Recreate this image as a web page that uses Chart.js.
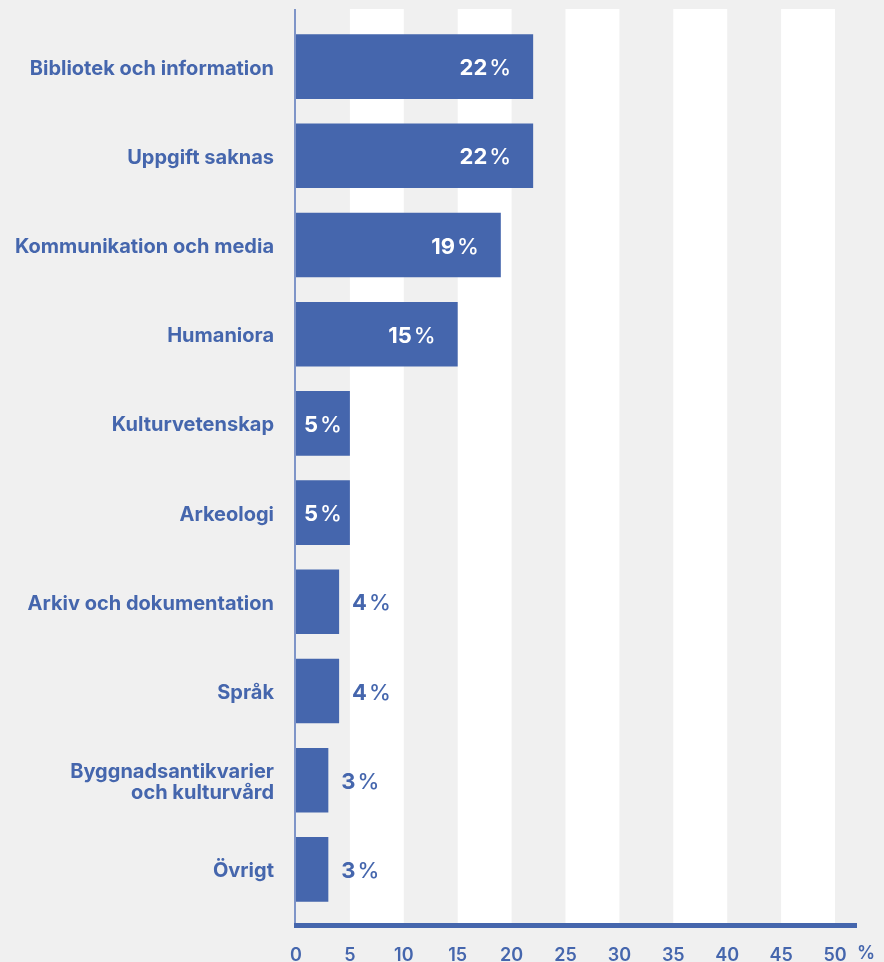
<!DOCTYPE html>
<html>
<head>
<meta charset="utf-8">
<script src="https://cdn.jsdelivr.net/npm/chart.js@4.4.1/dist/chart.umd.min.js"></script>
<style>
  html, body { margin: 0; padding: 0; background: #f0f0f0; }
  #wrap { width: 884px; height: 962px; }
</style>
</head>
<body>
<div id="wrap"><canvas id="chart"></canvas></div>
<script>
const categories = [
  'Bibliotek och information',
  'Uppgift saknas',
  'Kommunikation och media',
  'Humaniora',
  'Kulturvetenskap',
  'Arkeologi',
  'Arkiv och dokumentation',
  'Språk',
  ['Byggnadsantikvarier', 'och kulturvård'],
  'Övrigt'
];
const values = [22, 22, 19, 15, 5, 5, 4, 4, 3, 3];
const xTicks = [0, 5, 10, 15, 20, 25, 30, 35, 40, 45, 50];

const BLUE = '#4566ad';
const FONT = 'Inter, "Open Sans", sans-serif';

const decor = {
  id: 'decor',
  beforeDatasetsDraw(chart) {
    const { ctx, chartArea: a, scales: { x } } = chart;
    ctx.save();
    ctx.fillStyle = '#ffffff';
    for (let v = 5; v < 50; v += 10) {
      const x1 = x.getPixelForValue(v), x2 = x.getPixelForValue(v + 5);
      ctx.fillRect(x1, a.top - 13, x2 - x1, a.bottom - a.top + 22);
    }
    // left axis
    ctx.strokeStyle = '#5a77bb';
    ctx.lineWidth = 1.5;
    ctx.beginPath();
    ctx.moveTo(a.left - 1, a.top - 13);
    ctx.lineTo(a.left - 1, a.bottom + 11);
    ctx.stroke();
    ctx.restore();
  },
  afterDatasetsDraw(chart) {
    const { ctx, chartArea: a, scales: { x } } = chart;
    ctx.save();
    // bottom axis
    ctx.fillStyle = BLUE;
    ctx.fillRect(a.left - 2, a.bottom + 9, 857 - (a.left - 2), 5);
    // percent sign after last tick
    ctx.font = '600 18px ' + FONT;
    ctx.textAlign = 'center';
    ctx.textBaseline = 'middle';
    ctx.fillText('%', x.getPixelForValue(50) + 31, a.bottom + 40);

    // value labels
    const meta = chart.getDatasetMeta(0);
    meta.data.forEach((bar, i) => {
      const num = String(values[i]);
      ctx.font = '700 22px ' + FONT;
      const wn = ctx.measureText(num).width;
      ctx.font = '500 22px ' + FONT;
      const wp = ctx.measureText('%').width;
      const gap = 2;
      const w = wn + gap + wp;
      let left, color;
      if (values[i] >= 5) {
        color = '#ffffff';
        left = bar.x - 22 - w;
        if (left < bar.base + 8) left = (bar.base + bar.x) / 2 - w / 2;
      } else {
        color = BLUE;
        left = bar.x + 13;
      }
      ctx.fillStyle = color;
      ctx.textAlign = 'left';
      ctx.textBaseline = 'middle';
      ctx.font = '700 22px ' + FONT;
      ctx.fillText(num, left, bar.y + 2);
      ctx.font = '500 22px ' + FONT;
      ctx.fillText('%', left + wn + gap, bar.y + 2);
    });
    ctx.restore();
  }
};

new Chart(document.getElementById('chart'), {
  type: 'bar',
  data: {
    labels: categories,
    datasets: [{
      data: values,
      backgroundColor: BLUE,
      borderWidth: 0,
      barPercentage: 0.9,
      categoryPercentage: 0.805
    }]
  },
  options: {
    indexAxis: 'y',
    responsive: true,
    maintainAspectRatio: false,
    animation: false,
    layout: { padding: { top: 22, right: 49, left: 0, bottom: 0 } },
    plugins: { legend: { display: false }, tooltip: { enabled: false } },
    scales: {
      x: {
        min: 0,
        max: 50,
        afterBuildTicks(scale) { scale.ticks = xTicks.map(v => ({ value: v })); },
        afterFit(scale) { scale.height = 48; },
        grid: { display: false, drawTicks: false },
        border: { display: false },
        ticks: {
          autoSkip: false,
          padding: 31,
          color: BLUE,
          font: { family: FONT, size: 18, weight: '600' }
        }
      },
      y: {
        afterFit(scale) { scale.width = 296; },
        grid: {
          display: true,
          drawOnChartArea: false,
          drawTicks: true,
          tickLength: 22,
          color: 'rgba(0,0,0,0)'
        },
        border: { display: false },
        ticks: {
          padding: 0,
          labelOffset: 2,
          color: BLUE,
          font: { family: FONT, size: 20, weight: '700', lineHeight: 1.05 }
        }
      }
    }
  },
  plugins: [decor]
});
</script>
</body>
</html>
